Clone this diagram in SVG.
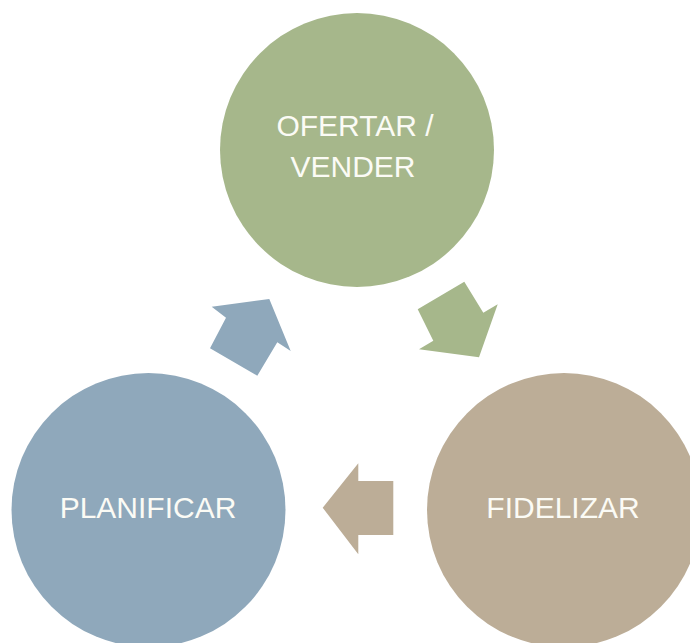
<svg xmlns="http://www.w3.org/2000/svg" width="690" height="643" viewBox="0 0 690 643">
<style>
.lbl{font-family:"Liberation Sans",Arial,sans-serif;font-size:30px;fill:#fbfbf5;text-anchor:middle}
.green{fill:#a6b78b}
.blue{fill:#8fa8bb}
.tan{fill:#bcad97}
</style>
<rect width="690" height="643" fill="#ffffff"/>
<g id="connectors">
<polygon class="blue" points="211.7,306.7 269.3,299 290.7,351 277.3,342.3 257.3,375.7 210,348.3 226,317.7"/>
<polygon class="green" points="417.7,309.3 464.3,281.7 483.3,312.7 497.7,304.3 479,357.3 419,349.3 433.3,340.7"/>
<polygon class="tan" points="322.7,507.7 358.3,463.3 358.3,481 393.3,481 393.3,535 358.3,535 358.3,554.3"/>
</g>
<g id="node-ofertar">
<circle class="green" cx="357" cy="150" r="137"/>
<text class="lbl" x="355" y="136">OFERTAR /</text>
<text class="lbl" x="353" y="177">VENDER</text>
</g>
<g id="node-planificar">
<circle class="blue" cx="148.5" cy="510" r="137"/>
<text class="lbl" x="148" y="518">PLANIFICAR</text>
</g>
<g id="node-fidelizar">
<circle class="tan" cx="564" cy="510" r="137"/>
<text class="lbl" x="563" y="518">FIDELIZAR</text>
</g>
</svg>
